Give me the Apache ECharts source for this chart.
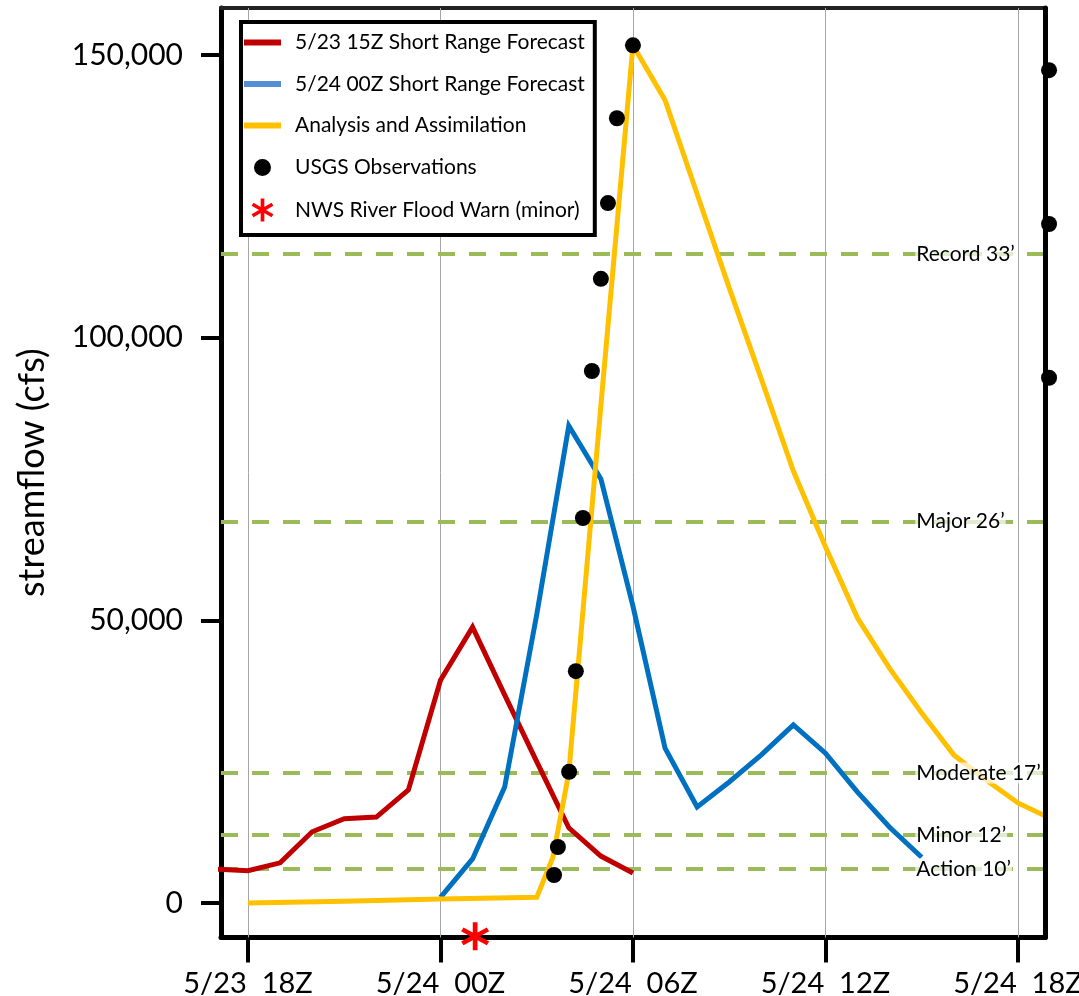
<!DOCTYPE html>
<html>
<head>
<meta charset="utf-8">
<title>streamflow</title>
<script src="https://cdn.jsdelivr.net/npm/echarts@6/dist/echarts.min.js"></script>
<style>
    html, body { margin: 0; padding: 0; background: #fff; }
    #main { width: 1079px; height: 996px; }
</style>
</head>
<body>
<div id="main"></div>
<script>
// x = hours counted from 5/23 18Z
const tickHours = [0, 6, 12, 18, 24];
const tickLabels = ['5/23  18Z', '5/24  00Z', '5/24  06Z', '5/24  12Z', '5/24  18Z'];
const yTicks = [0, 50000, 100000, 150000];

const seriesNames = ['5/23 15Z Short Range Forecast', '5/24 00Z Short Range Forecast',
    'Analysis and Assimilation', 'USGS Observations', 'NWS River Flood Warn (minor)'];

// 5/23 15Z forecast (red)
const redHours = [-1, 0, 1, 2, 3, 4, 5, 6, 7, 8, 9, 10, 11, 12];
const redFlow = [6000, 5700, 7100, 12600, 14900, 15200, 20000, 39400, 48800, 36800, 25000, 13300, 8300, 5300];

// 5/24 00Z forecast (blue)
const blueHours = [6, 7, 8, 9, 10, 11, 12, 13, 14, 15, 16, 17, 18, 19, 20, 21];
const blueFlow = [1000, 7800, 20500, 51000, 84400, 75000, 52500, 27400, 17000, 21400, 26200, 31500, 26500, 19600, 13400, 8100];

// analysis and assimilation (yellow)
const yellowHours = [0, 3, 6, 9, 9.5, 10, 11, 12, 13, 14, 15, 16, 17, 18, 19, 20, 21, 22, 23, 24, 25];
const yellowFlow = [0, 300, 700, 1000, 8000, 23000, 88000, 151700, 142000, 125400, 108800, 92700, 76400,
    63000, 50400, 41500, 33600, 26200, 21800, 17700, 15000];

// USGS observations
const obsHours = [9.54, 9.66, 10.01, 10.22, 10.44, 10.72, 11.0, 11.22, 11.5, 12.0, 24.97, 24.97, 24.97];
const obsFlow = [4950, 9900, 23200, 41000, 68100, 94100, 110400, 123800, 138800, 151700, 147300, 120100, 92900];

// flood warning issued
const warnHours = [7.08];
const warnFlow = [-5900];

// flood stages
const stageNames = ['Record 33\u2019', 'Major 26\u2019', 'Moderate 17\u2019', 'Minor 12\u2019', 'Action 10\u2019'];
const stageFlow = [114800, 67500, 23000, 12000, 6000];
const stageLabelHour = 20.8;

(function () {
    let myChart = echarts.init(document.getElementById('main'));

    const font = 'Lato';
    const pair = (xs, ys) => xs.map((x, i) => [x, ys[i]]);
    const comma = v => String(v).replace(/\B(?=(\d{3})+(?!\d))/g, ',');

    // asterisk made of three bars
    const asterisk = 'path://M-0.8,-5L0.8,-5L0.8,5L-0.8,5Z' +
        'M3.93,-3.193L4.73,-1.807L-3.93,3.193L-4.73,1.807Z' +
        'M-4.73,-1.807L-3.93,-3.193L4.73,1.807L3.93,3.193Z';
    const barIcon = 'path://M0,0H37V6H0Z';
    const dotIcon = 'path://M0,0L0,0.01M23,23L23,23.01M3,11.5A8.5,8.5,0,1,0,20,11.5A8.5,8.5,0,1,0,3,11.5Z';

    const xMin = -0.8416, xMax = 24.844;
    const yMin = -6102, yMax = 158300;

    let lineSeries = function (name, xs, ys, color) {
        return {
            name: name,
            type: 'line',
            data: pair(xs, ys),
            symbol: 'none',
            showSymbol: false,
            z: 2,
            lineStyle: { color: color, width: 5, join: 'miter' },
            itemStyle: { color: color },
            emphasis: { disabled: true }
        };
    };

    let option = {
        animation: false,
        backgroundColor: '#fff',
        grid: {
            left: 221, right: 34, top: 8, bottom: 58.5,
            containLabel: false,
            outerBoundsMode: 'none'
        },
        legend: {
            left: 241, top: 22,
            orient: 'vertical',
            selectedMode: false,
            itemWidth: 37, itemHeight: 23, itemGap: 19.5,
            padding: [9.5, 10, 13.5, 3],
            borderColor: '#000', borderWidth: 4,
            backgroundColor: '#fff',
            symbolKeepAspect: true,
            textStyle: { fontFamily: font, fontSize: 21, color: '#000', lineHeight: 22, padding: [0, 0, 0, 9] },
            data: [
                { name: seriesNames[0], icon: barIcon },
                { name: seriesNames[1], icon: barIcon, itemStyle: { color: '#558ED5' } },
                { name: seriesNames[2], icon: barIcon },
                { name: seriesNames[3], icon: dotIcon },
                { name: seriesNames[4], icon: asterisk }
            ]
        },
        xAxis: [{
            type: 'value',
            min: xMin, max: xMax,
            position: 'bottom',
            axisLine: { show: true, onZero: false, lineStyle: { color: '#000', width: 5 } },
            axisTick: {
                show: true, customValues: tickHours, length: 25, inside: false,
                lineStyle: { color: '#000', width: 4 }
            },
            axisLabel: {
                customValues: tickHours,
                formatter: v => tickLabels[tickHours.indexOf(v)],
                fontFamily: font, fontSize: 29, color: '#000', margin: 32
            },
            splitLine: { show: false }
        }, {
            type: 'value',
            min: xMin, max: xMax,
            position: 'top',
            axisLine: { show: true, onZero: false, lineStyle: { color: '#222', width: 4 } },
            axisTick: { show: false },
            axisLabel: { show: false },
            splitLine: { show: false }
        }],
        yAxis: [{
            type: 'value',
            min: yMin, max: yMax,
            position: 'left',
            name: 'streamflow (cfs)',
            nameLocation: 'middle',
            nameGap: 171,
            nameTextStyle: { fontFamily: font, fontSize: 36, color: '#000' },
            axisLine: { show: true, onZero: false, lineStyle: { color: '#000', width: 5 } },
            axisTick: {
                show: true, customValues: yTicks, length: 20, inside: false,
                lineStyle: { color: '#000', width: 4 }
            },
            axisLabel: {
                customValues: yTicks,
                formatter: v => comma(v),
                fontFamily: font, fontSize: 30, color: '#000', margin: 38
            },
            splitLine: { show: false }
        }, {
            type: 'value',
            min: yMin, max: yMax,
            position: 'right',
            z: 10,
            axisLine: { show: true, onZero: false, lineStyle: { color: '#000', width: 5 } },
            axisTick: { show: false },
            axisLabel: { show: false },
            splitLine: { show: false }
        }],
        series: [
            // flood stage labels, with grid and stage lines as markLines
            {
                name: 'stages',
                type: 'scatter',
                data: stageFlow.map(v => [stageLabelHour, v]),
                symbolSize: 0,
                z: 4,
                silent: true,
                itemStyle: { opacity: 1 },
                label: {
                    show: true,
                    position: 'right',
                    distance: 0,
                    formatter: p => stageNames[p.dataIndex],
                    fontFamily: font, fontSize: 21, color: '#000', opacity: 1,
                    backgroundColor: 'rgba(255,255,255,0.7)',
                    padding: [0, 1]
                },
                markLine: {
                    silent: true,
                    z: 1,
                    symbol: ['none', 'none'],
                    label: { show: false },
                    emphasis: { disabled: true },
                    data: tickHours.map(h => ({ xAxis: h, lineStyle: { color: '#A6A6A6', width: 1, type: 'solid' } }))
                        .concat(stageFlow.map(v => ({ yAxis: v, lineStyle: { color: '#9BBB59', width: 4, type: [17, 14] } })))
                }
            },
            lineSeries(seriesNames[0], redHours, redFlow, '#C00000'),
            lineSeries(seriesNames[1], blueHours, blueFlow, '#0070C0'),
            lineSeries(seriesNames[2], yellowHours, yellowFlow, '#FFC000'),
            {
                name: seriesNames[3],
                type: 'scatter',
                data: pair(obsHours, obsFlow),
                symbol: 'circle',
                symbolSize: 16,
                clip: false,
                z: 3,
                itemStyle: { color: '#000', opacity: 1 }
            },
            {
                name: seriesNames[4],
                type: 'scatter',
                data: pair(warnHours, warnFlow),
                symbol: asterisk,
                symbolSize: [28, 28],
                clip: false,
                z: 6,
                itemStyle: { color: '#FF0000', opacity: 1 }
            }
        ]
    };

    myChart.setOption(option);

    window.addEventListener('resize', function () {
        myChart.resize();
    });
})();
</script>
</body>
</html>
